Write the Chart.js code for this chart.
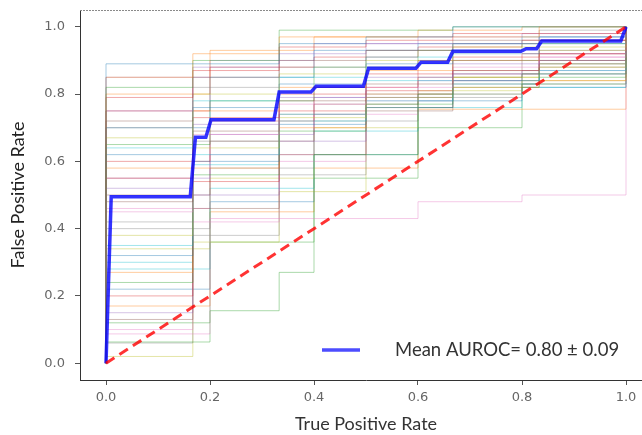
<!DOCTYPE html>
<html><head><meta charset="utf-8">
<script src="https://cdn.jsdelivr.net/npm/chart.js@4"></script>
<style>
html,body{margin:0;padding:0;background:#fff;overflow:hidden;width:642px;height:435px;}
#wrap{position:relative;width:652px;height:435px;}
</style></head><body>
<div id="wrap"><canvas id="c" width="652" height="435"></canvas></div>
<script>
// ---- data ----
const xTicks = [0, 0.2, 0.4, 0.6, 0.8, 1.0];
const yTicks = [0, 0.2, 0.4, 0.6, 0.8, 1.0];
const xTitle = 'True Positive Rate';
const yTitle = 'False Positive Rate';
const legendLabel = 'Mean AUROC= 0.80 \u00b1 0.09';

// folds with 6 negatives (steps every 1/6)
const gridSix = [0, 0, 0.167, 0.333, 0.5, 0.667, 0.833, 1];
const tprSix = [
  [0, 0.89, 0.89, 0.95, 0.97, 1.00, 1.00, 1],
  [0, 0.85, 0.92, 0.97, 0.97, 0.97, 1.00, 1],
  [0, 0.82, 0.90, 0.99, 0.99, 1.00, 1.00, 1],
  [0, 0.79, 0.87, 0.94, 0.96, 0.98, 0.98, 1],
  [0, 0.75, 0.88, 0.92, 0.95, 0.95, 0.97, 1],
  [0, 0.72, 0.85, 0.90, 0.93, 0.96, 0.96, 1],
  [0, 0.70, 0.82, 0.88, 0.93, 0.95, 0.99, 1],
  [0, 0.67, 0.80, 0.86, 0.90, 0.94, 0.94, 1],
  [0, 0.64, 0.78, 0.85, 0.91, 0.95, 0.97, 1],
  [0, 0.62, 0.76, 0.83, 0.89, 0.92, 0.95, 1],
  [0, 0.58, 0.75, 0.82, 0.87, 0.90, 0.93, 1],
  [0, 0.55, 0.73, 0.80, 0.86, 0.91, 0.96, 1],
  [0, 0.52, 0.71, 0.79, 0.85, 0.89, 0.92, 1],
  [0, 0.48, 0.69, 0.78, 0.83, 0.87, 0.90, 1],
  [0, 0.45, 0.68, 0.77, 0.82, 0.88, 0.91, 1],
  [0, 0.42, 0.66, 0.74, 0.80, 0.86, 0.89, 1],
  [0, 0.38, 0.64, 0.73, 0.79, 0.85, 0.88, 1],
  [0, 0.35, 0.62, 0.72, 0.78, 0.83, 0.87, 1],
  [0, 0.32, 0.60, 0.71, 0.76, 0.84, 0.86, 1],
  [0, 0.27, 0.58, 0.70, 0.80, 0.82, 0.84, 1],
  [0, 0.24, 0.56, 0.69, 0.77, 0.82, 0.85, 1],
  [0, 0.20, 0.54, 0.75, 0.81, 0.87, 0.92, 1],
  [0, 0.15, 0.50, 0.66, 0.79, 0.86, 0.90, 1],
  [0, 0.13, 0.46, 0.62, 0.75, 0.83, 0.88, 1],
  [0, 0.10, 0.42, 0.60, 0.78, 0.86, 0.91, 1],
  [0, 0.06, 0.38, 0.56, 0.76, 0.84, 0.89, 1],
  [0, 0.02, 0.36, 0.51, 0.76, 0.85, 0.89, 1],
  [0, 0.30, 0.59, 0.74, 0.84, 0.90, 0.93, 1]
];

// folds with 5 negatives (steps every 0.2)
const gridFive = [0, 0, 0.2, 0.4, 0.6, 0.8, 1];
const tprFive = [
  [0, 0.087, 0.43, 0.43, 0.48, 0.50, 1],
  [0, 0.70, 0.85, 0.93, 0.95, 0.97, 1],
  [0, 0.80, 0.93, 0.97, 0.99, 1.00, 1],
  [0, 0.65, 0.78, 0.88, 0.93, 0.95, 1],
  [0, 0.60, 0.72, 0.82, 0.90, 0.92, 1],
  [0, 0.55, 0.68, 0.79, 0.84, 0.87, 1],
  [0, 0.50, 0.66, 0.77, 0.85, 0.90, 1],
  [0, 0.46, 0.62, 0.74, 0.80, 0.86, 1],
  [0, 0.40, 0.58, 0.72, 0.79, 0.83, 1],
  [0, 0.34, 0.55, 0.70, 0.81, 0.84, 1],
  [0, 0.28, 0.52, 0.69, 0.76, 0.82, 1],
  [0, 0.22, 0.48, 0.62, 0.78, 0.82, 1],
  [0, 0.17, 0.45, 0.58, 0.755, 0.755, 1],
  [0, 0.12, 0.36, 0.55, 0.70, 0.83, 1],
  [0, 0.75, 0.88, 0.91, 0.94, 0.96, 1],
  [0, 0.85, 0.90, 0.95, 0.97, 0.98, 1]
];

// irregular fold
const gridOdd = [0, 0, 0.2, 0.333, 0.4, 0.6, 0.8, 1];
const tprOdd = [
  [0, 0.063, 0.156, 0.27, 0.62, 0.80, 0.86, 1]
];

// mean curve
const meanFpr = [0, 0.01, 0.162, 0.172, 0.192, 0.202, 0.323, 0.333, 0.394, 0.404, 0.495, 0.505, 0.596, 0.606, 0.657, 0.667, 0.798, 0.808, 0.828, 0.838, 0.99, 1.0];
const meanTpr = [0, 0.495, 0.495, 0.672, 0.672, 0.724, 0.724, 0.806, 0.806, 0.823, 0.823, 0.877, 0.877, 0.895, 0.895, 0.927, 0.927, 0.935, 0.935, 0.958, 0.958, 1.0];

// chance line
const chanceFpr = [0, 1];
const chanceTpr = [0, 1];

// ---- drawing ----
const tab10 = ['31,119,180','255,127,14','44,160,44','214,39,40','148,103,189','140,86,75','227,119,194','127,127,127','188,189,34','23,190,207'];
const pts = (xs, ys) => xs.map((x, i) => ({x: x, y: ys[i]}));

const datasets = [];
datasets.push({data: pts(chanceFpr, chanceTpr), borderColor: 'rgba(255,0,0,0.8)', borderWidth: 3, borderDash: [10, 6], order: 0, stepped: false});
datasets.push({data: pts(meanFpr, meanTpr), borderColor: 'rgba(0,0,255,0.8)', borderWidth: 3.5, order: 1, stepped: false});
const folds = [];
tprSix.forEach(t => folds.push([gridSix, t]));
tprFive.forEach((t, i) => { if (i > 0) folds.push([gridFive, t]); });
folds.splice(6, 0, [gridFive, tprFive[0]]);
tprOdd.forEach(t => folds.splice(12, 0, [gridOdd, t]));
folds.forEach((f, i) => {
  datasets.push({data: pts(f[0], f[1]), borderColor: 'rgba(' + tab10[i % 10] + ',0.4)', borderWidth: 1, stepped: true, order: 2});
});

const decor = {
  id: 'decor',
  afterDraw(chart) {
    const ctx = chart.ctx, a = chart.chartArea;
    ctx.save();
    ctx.strokeStyle = '#8a8a8a';
    ctx.lineWidth = 1;
    ctx.setLineDash([2, 1]);
    ctx.beginPath();
    ctx.moveTo(a.left, a.top + 0.5);
    ctx.lineTo(a.right, a.top + 0.5);
    ctx.stroke();
    ctx.setLineDash([]);
    ctx.strokeStyle = 'rgba(0,0,255,0.7)';
    ctx.lineWidth = 3.5;
    ctx.beginPath();
    ctx.moveTo(322, 350);
    ctx.lineTo(360, 350);
    ctx.stroke();
    ctx.fillStyle = '#333';
    ctx.font = '18.5px Lato';
    ctx.textBaseline = 'middle';
    ctx.textAlign = 'left';
    ctx.fillText(legendLabel, 395, 350);
    ctx.restore();
  }
};

new Chart(document.getElementById('c'), {
  type: 'line',
  data: {datasets: datasets},
  plugins: [decor],
  options: {
    responsive: false,
    animation: false,
    devicePixelRatio: 1,
    layout: {padding: {top: 10, right: 0, bottom: 0, left: 0}},
    plugins: {legend: {display: false}, tooltip: {enabled: false}},
    elements: {point: {radius: 0}, line: {tension: 0}},
    scales: {
      x: {
        type: 'linear', min: -0.05, max: 1.05,
        afterFit: s => { s.height = 55; s.paddingLeft = 0; s.paddingRight = 0; },
        afterBuildTicks: s => { s.ticks = xTicks.map(v => ({value: v})); },
        ticks: {callback: v => v.toFixed(1), font: {family: 'DejaVu Sans', size: 13}, color: '#666', padding: 5, maxRotation: 0},
        grid: {drawOnChartArea: false, tickLength: 5, color: '#555'},
        border: {color: '#333', width: 1},
        title: {display: true, text: xTitle, font: {family: 'Lato', size: 18}, color: '#333', padding: {top: 0, bottom: 0}}
      },
      y: {
        type: 'linear', min: -0.05, max: 1.05,
        afterFit: s => { s.width = 80; s.paddingTop = 0; s.paddingBottom = 0; },
        afterBuildTicks: s => { s.ticks = yTicks.map(v => ({value: v})); },
        ticks: {callback: v => v.toFixed(1), font: {family: 'DejaVu Sans', size: 13}, color: '#666', padding: 10},
        grid: {drawOnChartArea: false, tickLength: 5, color: '#555'},
        border: {color: '#333', width: 1},
        title: {display: true, text: yTitle, font: {family: 'Lato', size: 18}, color: '#222', padding: {top: 7, bottom: 0}}
      }
    }
  }
});
</script>
</body></html>
